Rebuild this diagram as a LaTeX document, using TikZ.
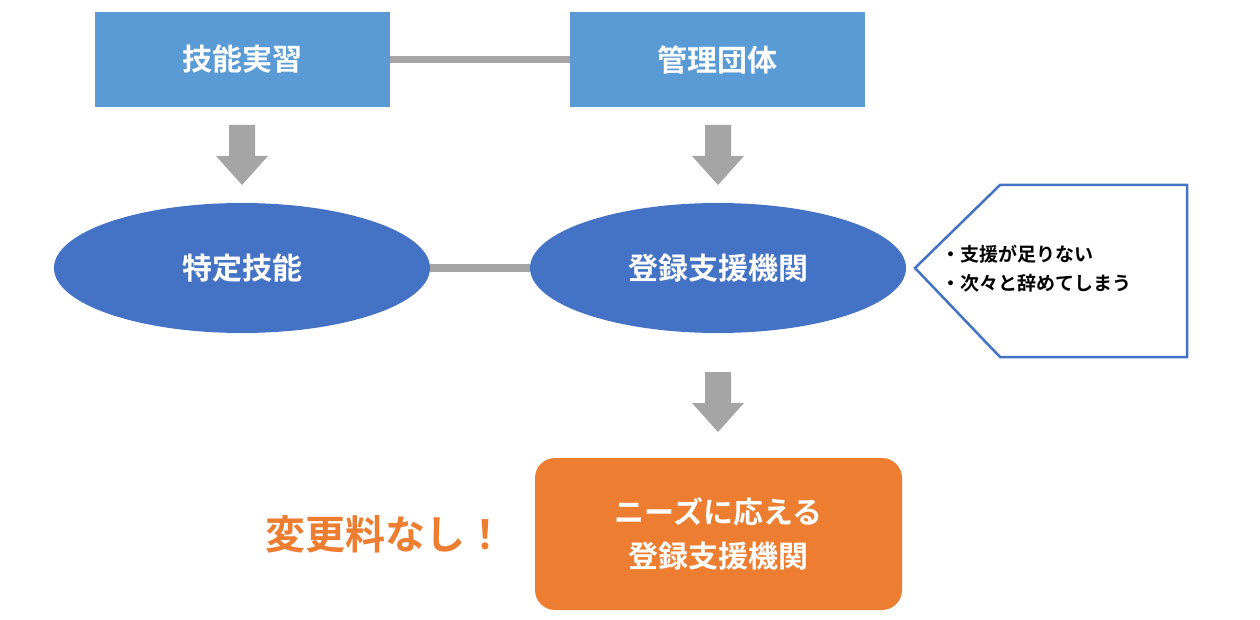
\documentclass[tikz,border=0pt]{standalone}
\usepackage{fontspec}
\setmainfont{Noto Sans CJK JP}
\newfontfamily\cjkb{Noto Sans CJK JP Bold}
\usetikzlibrary{shapes.geometric}
\definecolor{lb}{HTML}{5B9BD5}
\definecolor{db}{HTML}{4472C4}
\definecolor{og}{HTML}{ED7D31}
\definecolor{gr}{HTML}{A5A5A5}
\tikzset{
 box/.style={fill=lb,draw=none,minimum width=295pt,minimum height=95pt,text=white,font=\cjkb\fontsize{30}{36}\selectfont},
 ell/.style={ellipse,fill=db,draw=none,minimum width=376pt,minimum height=130pt,text=white,font=\cjkb\fontsize{30}{36}\selectfont},
 link/.style={draw=gr,line width=7pt},
 darr/.style={fill=gr,draw=none}
}
\newcommand{\myarrow}[2]{\fill[darr] (#1-13,#2) -- (#1+13,#2) -- (#1+13,#2+31) -- (#1+26,#2+31) -- (#1,#2+60) -- (#1-26,#2+31) -- (#1-13,#2+31) -- cycle;}
\begin{document}
\begin{tikzpicture}[x=1pt,y=-1pt]
\useasboundingbox (0,0) rectangle (1260,620);
\node[box] (a) at (242.5,59.5) {技能実習};
\node[box] (b) at (717.5,59.5) {管理団体};
\draw[link] (a.east) -- (b.west);
\myarrow{242}{125}
\myarrow{718}{125}
\myarrow{718}{372}
\node[ell] (c) at (242,268) {特定技能};
\node[ell] (d) at (718,268) {登録支援機関};
\draw[link] (c.east) -- (d.west);
\draw[draw=db,line width=2.5pt,fill=white] (915,268) -- (1000,185) -- (1187,185) -- (1187,357) -- (1000,357) -- cycle;
\node[anchor=west,align=left,font=\cjkb\fontsize{19}{29}\selectfont] (t) at (938,269) {・支援が足りない\\・次々と辞めてしまう};
\node[fill=og,rounded corners=20pt,minimum width=367pt,minimum height=152pt,text=white,align=center,font=\cjkb\fontsize{30}{44}\selectfont] (e) at (718.5,534) {ニーズに応える\\登録支援機関};
\node[text=og,font=\cjkb\fontsize{40}{48}\selectfont] (f) at (385,534) {変更料なし！};
\end{tikzpicture}
\end{document}
